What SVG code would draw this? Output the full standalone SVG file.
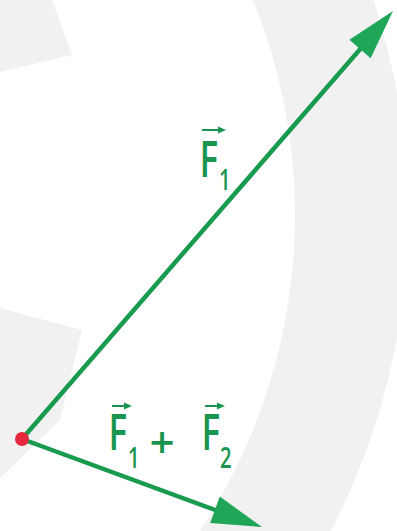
<svg xmlns="http://www.w3.org/2000/svg" width="397" height="531" viewBox="0 0 397 531">
<defs>
<style>
.bg{fill:#f1f1f1;stroke:none}
.vec{stroke:#189a4f;stroke-width:4.5;fill:none;stroke-linecap:butt}
.head{fill:#1fa658;stroke:none}
.lbl{font-family:"Open Sans","Noto Sans","DejaVu Sans",sans-serif;fill:#1a9550;font-weight:600}
.big{font-size:50px}
.sub{font-size:28px}
.ov{stroke:#1a9550;stroke-width:2;fill:none}
.ovh{fill:#1a9550}
</style>
</defs>
<rect width="397" height="531" fill="#ffffff"/>
<g id="background">
<polygon class="bg" points="0,0 52,0 72,55 0,72"/>
<polygon class="bg" points="0,308 82,330 60,420 0,478"/>
<path class="bg" fill-rule="evenodd" d="M -277,215 m -685,0 a 685,685 0 1,0 1370,0 a 685,685 0 1,0 -1370,0 Z M -277,215 m -572,0 a 572,572 0 1,0 1144,0 a 572,572 0 1,0 -1144,0 Z"/>
</g>
<g id="connectors">
<line class="vec" x1="22" y1="439" x2="362" y2="47"/>
<polygon class="head" points="393,11 370.6,58.2 349.4,39.8"/>
<line class="vec" x1="22" y1="439" x2="218" y2="511"/>
<polygon class="head" points="262,527 210.2,523 219.8,496.6"/>
</g>
<g id="origin">
<circle cx="22" cy="439" r="7" fill="#e5283d"/>
</g>
<g id="label-F1">
<text class="lbl big" transform="translate(199.5,177) scale(0.7,1)">F</text>
<text class="lbl sub" transform="translate(219,190) scale(0.72,1)">1</text>
<line class="ov" x1="202" y1="130" x2="220" y2="130"/>
<polygon class="ovh" points="226,130 218,126.5 218,133.5"/>
</g>
<g id="label-sum">
<text class="lbl big" transform="translate(108.5,450) scale(0.7,1)">F</text>
<text class="lbl sub" transform="translate(128,468) scale(0.72,1)">1</text>
<line class="ov" x1="112" y1="406" x2="126" y2="406"/>
<polygon class="ovh" points="132,406 124,402.5 124,409.5"/>
<text class="lbl" font-size="44" font-weight="400" text-anchor="middle" x="162" y="458">+</text>
<text class="lbl big" transform="translate(201.5,450) scale(0.7,1)">F</text>
<text class="lbl sub" transform="translate(220,468) scale(0.72,1)">2</text>
<line class="ov" x1="205" y1="406" x2="219" y2="406"/>
<polygon class="ovh" points="225,406 217,402.5 217,409.5"/>
</g>
</svg>
